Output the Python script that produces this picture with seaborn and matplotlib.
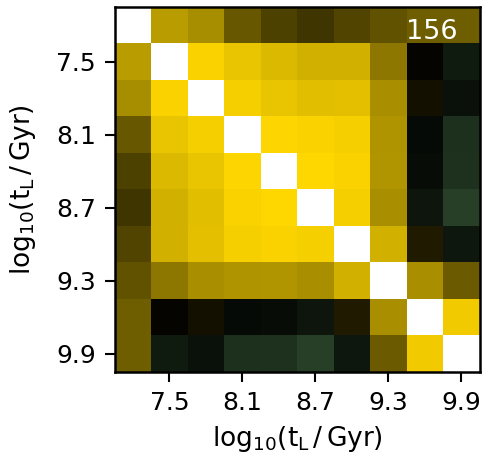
import numpy as np
import pandas as pd
import matplotlib.pyplot as plt
import seaborn as sns
from matplotlib.colors import LinearSegmentedColormap

# ── data ─────────────────────────────────────────────
ages = [7.2, 7.5, 7.8, 8.1, 8.4, 8.7, 9.0, 9.3, 9.6, 9.9]
tick_ages = [7.5, 8.1, 8.7, 9.3, 9.9]
n_label = "156"
nan = np.nan
corr = [
    [nan, 0.72, 0.65, 0.40, 0.30, 0.245, 0.32, 0.38, 0.43, 0.43],
    [0.72, nan, 0.97, 0.91, 0.855, 0.82, 0.815, 0.55, 0.02, -0.11],
    [0.65, 0.97, nan, 0.955, 0.91, 0.88, 0.885, 0.66, 0.075, -0.065],
    [0.40, 0.91, 0.955, nan, 0.99, 0.97, 0.96, 0.68, -0.04, -0.20],
    [0.30, 0.855, 0.91, 0.99, nan, 0.995, 0.97, 0.69, -0.05, -0.21],
    [0.245, 0.82, 0.88, 0.97, 0.995, nan, 0.96, 0.66, -0.09, -0.26],
    [0.32, 0.815, 0.885, 0.96, 0.97, 0.96, nan, 0.82, 0.12, -0.10],
    [0.38, 0.55, 0.66, 0.68, 0.69, 0.66, 0.82, nan, 0.66, 0.42],
    [0.43, 0.02, 0.075, -0.04, -0.05, -0.09, 0.12, 0.66, nan, 0.94],
    [0.43, -0.11, -0.065, -0.20, -0.21, -0.26, -0.10, 0.42, 0.94, nan],
]

df = pd.DataFrame(corr, index=ages, columns=ages)

sns.set_style("ticks")
plt.rcParams["font.family"] = ["DejaVu Sans"]
plt.rcParams["mathtext.fontset"] = "dejavusans"
plt.rcParams["text.color"] = "black"
plt.rcParams["axes.labelcolor"] = "black"
plt.rcParams["xtick.color"] = "black"
plt.rcParams["ytick.color"] = "black"

cmap = LinearSegmentedColormap.from_list("gkg", ["#90EE90", "black", "#FFD700"])

fig = plt.figure(figsize=(4.85, 4.62), dpi=100)
ax = fig.add_axes([0.235, 0.195, 0.755, 0.79])

sns.heatmap(df, mask=df.isna(), cmap=cmap, vmin=-1, vmax=1, cbar=False,
            square=True, ax=ax, xticklabels=False, yticklabels=False)

pos = [ages.index(a) + 0.5 for a in tick_ages]
ax.set_xticks(pos)
ax.set_xticklabels([f"{a:.1f}" for a in tick_ages], rotation=0)
ax.set_yticks(pos)
ax.set_yticklabels([f"{a:.1f}" for a in tick_ages], rotation=0)
ax.tick_params(labelsize=18, length=7.5, width=1.5, direction="out",
               colors="black", pad=6)

for sp in ax.spines.values():
    sp.set_visible(True)
    sp.set_color("black")
    sp.set_linewidth(1.8)

lab = r"$\mathrm{log}_{10}(\mathrm{t_L\,/\,Gyr})$"
ax.set_xlabel(lab, fontsize=19, labelpad=7)
ax.set_ylabel(lab, fontsize=19, labelpad=13)

ax.text(0.94, 0.93, n_label, transform=ax.transAxes, ha="right", va="center",
        color="white", fontsize=19.5)

fig.savefig("out.png", dpi=100)
